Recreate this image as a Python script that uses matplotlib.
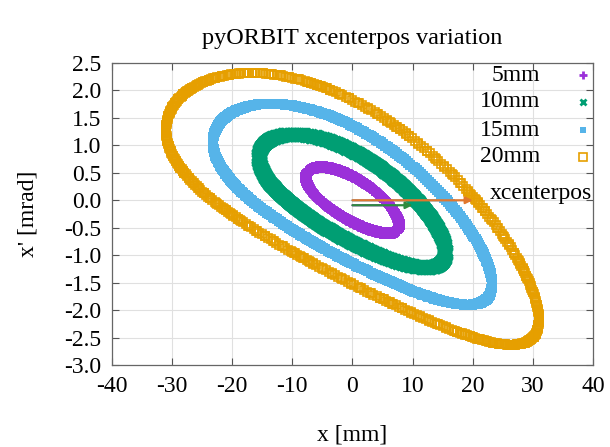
import numpy as np
import matplotlib
matplotlib.use("Agg")
import matplotlib.pyplot as plt

plt.rcParams['font.family'] = ['Liberation Serif', 'DejaVu Serif']
plt.rcParams['axes.unicode_minus'] = False

# one ring per starting offset
labels = ["5mm", "10mm", "15mm", "20mm"]
x_start = [5.0, 10.0, 15.0, 20.0]          # arrow ends (mm)
x_max = [7.75, 15.5, 23.2, 31.0]           # ring half width in x (mm)
xp_center = [0.02, 0.06, 0.10, 0.15]       # x' of ring midline at x=0 (mrad)
bend = 0.00062                             # midline droop, mrad/mm^2
colors = ["#9b30d9", "#009e73", "#56b4e9", "#e69f00"]
arrow_colors = ["#9b30d9", "#2e8b3e", "#56b4e9", "#e0772e"]
arrow_y = [-0.09, -0.09, 0.0, 0.0]
arrow_on_top = [False, True, False, True]

# linear lattice (Twiss) estimated from the ring shapes
beta = 18.5     # mm/mrad
alpha = 1.03
tune = 0.2137
n_turns = 520

gamma = (1 + alpha**2) / beta
mu = 2 * np.pi * tune
M = np.array([[np.cos(mu) + alpha * np.sin(mu), beta * np.sin(mu)],
              [-gamma * np.sin(mu), np.cos(mu) - alpha * np.sin(mu)]])


def track(xm, yc):
    # launch on the x'=0 line so that the ring reaches xm at its widest
    v = np.array([xm / np.sqrt(beta * gamma), 0.0])
    out = np.empty((n_turns, 2))
    for i in range(n_turns):
        out[i] = v
        v = M @ v
    out[:, 1] += yc - bend * out[:, 0] ** 2
    return out


fig = plt.figure(figsize=(6.1, 4.47), dpi=100)
ax = fig.add_axes([0.1836, 0.1834, 0.7884, 0.6756])

styles = [dict(marker="+", ms=9, color=colors[0], mew=2.6),
          dict(marker="x", ms=8, color=colors[1], mew=3.0),
          dict(marker="s", ms=6.5, color=colors[2], mew=0),
          dict(marker="s", ms=5.5, mfc="none", mec=colors[3], mew=1.2)]

for xm, yc, st in zip(x_max, xp_center, styles):
    pts = track(xm, yc)
    ax.plot(pts[:, 0], pts[:, 1], ls="none", zorder=2, **st)

# the 5mm / 15mm arrows sit underneath the 10mm / 20mm ones
for x0, c, ya, top in zip(x_start, arrow_colors, arrow_y, arrow_on_top):
    ax.annotate("", xy=(x0, ya), xytext=(0, ya), zorder=5 if top else 1.5,
                arrowprops=dict(arrowstyle="-|>" if top else "-", color=c,
                                lw=1.6, mutation_scale=10,
                                shrinkA=0, shrinkB=0))
ax.text(22.8, 0.13, "xcenterpos", fontsize=17, va="center", ha="left")

# key on the upper right (text right aligned, marker after it)
key_y = [0.960, 0.871, 0.778, 0.689]
key_styles = [dict(marker="+", ms=6, color=colors[0], mew=2),
              dict(marker="x", ms=5, color=colors[1], mew=2),
              dict(marker="s", ms=5, color=colors[2], mew=0),
              dict(marker="s", ms=5.5, mfc="none", mec=colors[3], mew=1.2)]
for lab, st, ky in zip(labels, key_styles, key_y):
    ax.text(0.89, ky, lab, transform=ax.transAxes, fontsize=17,
            ha="right", va="center")
    ax.plot([0.979], [ky], transform=ax.transAxes, ls="none",
            clip_on=False, **st)

ax.set_xlim(-40, 40)
ax.set_ylim(-3.0, 2.5)
ax.set_xticks(np.arange(-40, 41, 10))
yt = np.arange(-3.0, 2.51, 0.5)
ax.set_yticks(yt)
ax.set_yticklabels([f"{v:.1f}" for v in yt])
ax.tick_params(direction="in", length=5, width=0.8, color="#555555",
               top=True, right=True, labelsize=17, pad=8)
ax.grid(True, color="#e0e0e0", lw=0.8)
ax.set_axisbelow(True)
for s in ax.spines.values():
    s.set_color("#666666")
    s.set_linewidth(0.9)

ax.set_xlabel("x [mm]", fontsize=17, labelpad=20)
ax.set_ylabel("x' [mrad]", fontsize=17, labelpad=18)
ax.set_title("pyORBIT xcenterpos variation", fontsize=17.5, pad=14)

fig.savefig("out.png", dpi=100)
